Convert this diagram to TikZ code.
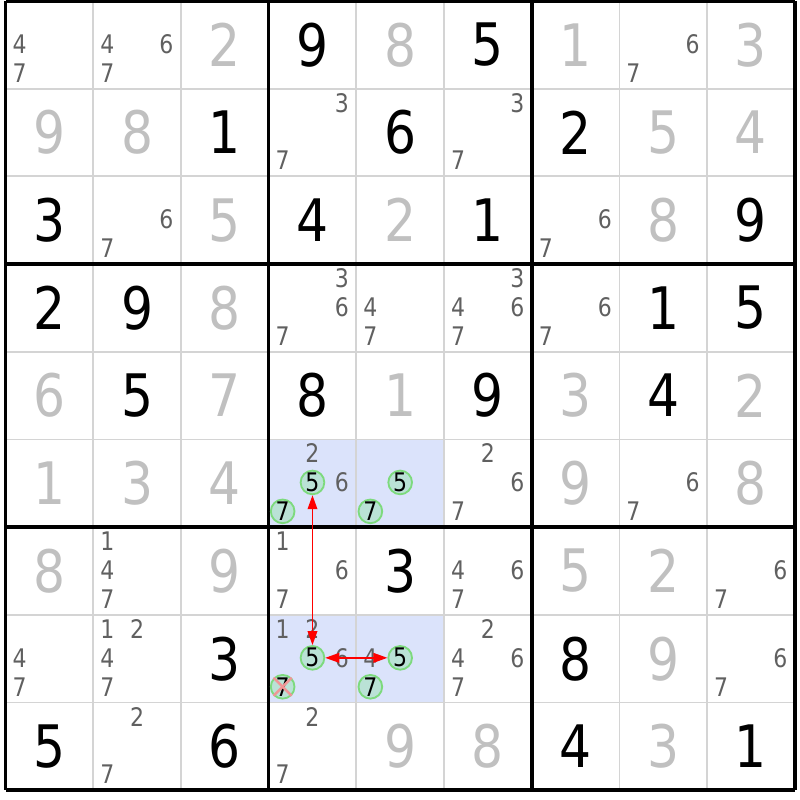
\documentclass[tikz,border=0pt]{standalone}
\usepackage{fontspec}
\setmainfont{DejaVu Sans}[FakeStretch=0.86]
\usetikzlibrary{arrows.meta}

\definecolor{givengray}{RGB}{192,192,192}
\definecolor{candgray}{RGB}{96,96,96}
\definecolor{gridgray}{RGB}{212,212,212}
\definecolor{markblue}{RGB}{219,227,251}
\definecolor{pickfill}{RGB}{186,226,214}
\definecolor{pickline}{RGB}{125,218,125}
\definecolor{crossred}{RGB}{240,150,150}
\definecolor{linkred}{RGB}{255,0,0}

\tikzset{
  given/.style={text=givengray, font=\fontsize{19}{19}\selectfont, inner sep=0pt},
  solved/.style={text=black, font=\fontsize{19}{19}\selectfont, inner sep=0pt},
  cand/.style={text=candgray, font=\fontsize{8.3}{8.3}\selectfont, inner sep=0pt},
  pick/.style={circle, draw=pickline, fill=pickfill, line width=0.6pt,
    minimum size=0.27cm, inner sep=0pt, text=black,
    font=\fontsize{8.3}{8.3}\selectfont},
  link/.style={linkred, line width=0.5pt, <->}
}

% position of candidate #3 in cell (column #1, row #2)
\newcommand{\setcand}[3]{%
  \pgfmathsetmacro{\cx}{#1-1+{0.16,0.5,0.835}[int(mod(#3-1,3))]}%
  \pgfmathsetmacro{\cy}{1-#2-{0.16,0.49,0.82}[int((#3-1)/3)]}%
}

\begin{document}
\begin{tikzpicture}[x=1cm, y=1cm, >={Triangle[length=1.6mm, width=1.1mm]}]
    % --- Frame ---
    \useasboundingbox (-0.063,0.011) rectangle (9.059,-9.11);

    % --- Highlighted cells ---
    \foreach \c/\r in {4/6, 5/6, 4/8, 5/8}
        \fill[markblue] (\c-1,1-\r) rectangle (\c,-\r);

    % --- Grid ---
    \foreach \i in {1,2,4,5,7,8} {
        \draw[gridgray, line width=0.6pt] (\i,0) -- (\i,-9);
        \draw[gridgray, line width=0.6pt] (0,-\i) -- (9,-\i);
    }
    \foreach \i in {0,3,6,9} {
        \draw[line width=1.2pt] (\i,0) -- (\i,-9);
        \draw[line width=1.2pt] (0,-\i) -- (9,-\i);
    }

    % --- Givens (gray) ---
    \foreach \c/\r/\n in {3/1/2, 5/1/8, 7/1/1, 9/1/3,
                          1/2/9, 2/2/8, 8/2/5, 9/2/4,
                          3/3/5, 5/3/2, 8/3/8,
                          3/4/8,
                          1/5/6, 3/5/7, 5/5/1, 7/5/3, 9/5/2,
                          1/6/1, 2/6/3, 3/6/4, 7/6/9, 9/6/8,
                          1/7/8, 3/7/9, 7/7/5, 8/7/2,
                          8/8/9,
                          5/9/9, 6/9/8, 8/9/3}
        \node[given] (given-\c-\r) at (\c-0.5,0.5-\r) {\n};

    % --- Solved cells (black) ---
    \foreach \c/\r/\n in {4/1/9, 6/1/5,
                          3/2/1, 5/2/6, 7/2/2,
                          1/3/3, 4/3/4, 6/3/1, 9/3/9,
                          1/4/2, 2/4/9, 8/4/1, 9/4/5,
                          2/5/5, 4/5/8, 6/5/9, 8/5/4,
                          5/7/3,
                          3/8/3, 7/8/8,
                          1/9/5, 3/9/6, 7/9/4, 9/9/1}
        \node[solved] (solved-\c-\r) at (\c-0.5,0.5-\r) {\n};

    % --- Candidates ---
    \foreach \c/\r/\ds in {1/1/{4,7}, 2/1/{4,6,7}, 8/1/{6,7},
                           4/2/{3,7}, 6/2/{3,7},
                           2/3/{6,7}, 7/3/{6,7},
                           4/4/{3,6,7}, 5/4/{4,7}, 6/4/{3,4,6,7}, 7/4/{6,7},
                           4/6/{2,6}, 6/6/{2,6,7}, 8/6/{6,7},
                           2/7/{1,4,7}, 4/7/{1,6,7}, 6/7/{4,6,7}, 9/7/{6,7},
                           1/8/{4,7}, 2/8/{1,2,4,7}, 4/8/{1,2,6}, 5/8/{4},
                           6/8/{2,4,6,7}, 9/8/{6,7},
                           2/9/{2,7}, 4/9/{2,7}} {
        \foreach \d in \ds {
            \setcand{\c}{\r}{\d}
            \node[cand] (cand-\c-\r-\d) at (\cx,\cy) {\d};
        }
    }

    % --- Circled candidates ---
    \foreach \c/\r/\d in {4/6/5, 4/6/7, 5/6/5, 5/6/7,
                          4/8/5, 4/8/7, 5/8/5, 5/8/7} {
        \setcand{\c}{\r}{\d}
        \node[pick] (pick-\c-\r-\d) at (\cx,\cy) {\d};
    }

    % eliminated 7
    \draw[crossred, line width=0.8pt] (pick-4-8-7.135) -- (pick-4-8-7.-45);
    \draw[crossred, line width=0.8pt] (pick-4-8-7.45) -- (pick-4-8-7.-135);

    % --- Links ---
    \draw[link] (pick-4-6-5) -- (pick-4-8-5);
    \draw[link] (pick-4-8-5) -- (pick-5-8-5);

\end{tikzpicture}
\end{document}
